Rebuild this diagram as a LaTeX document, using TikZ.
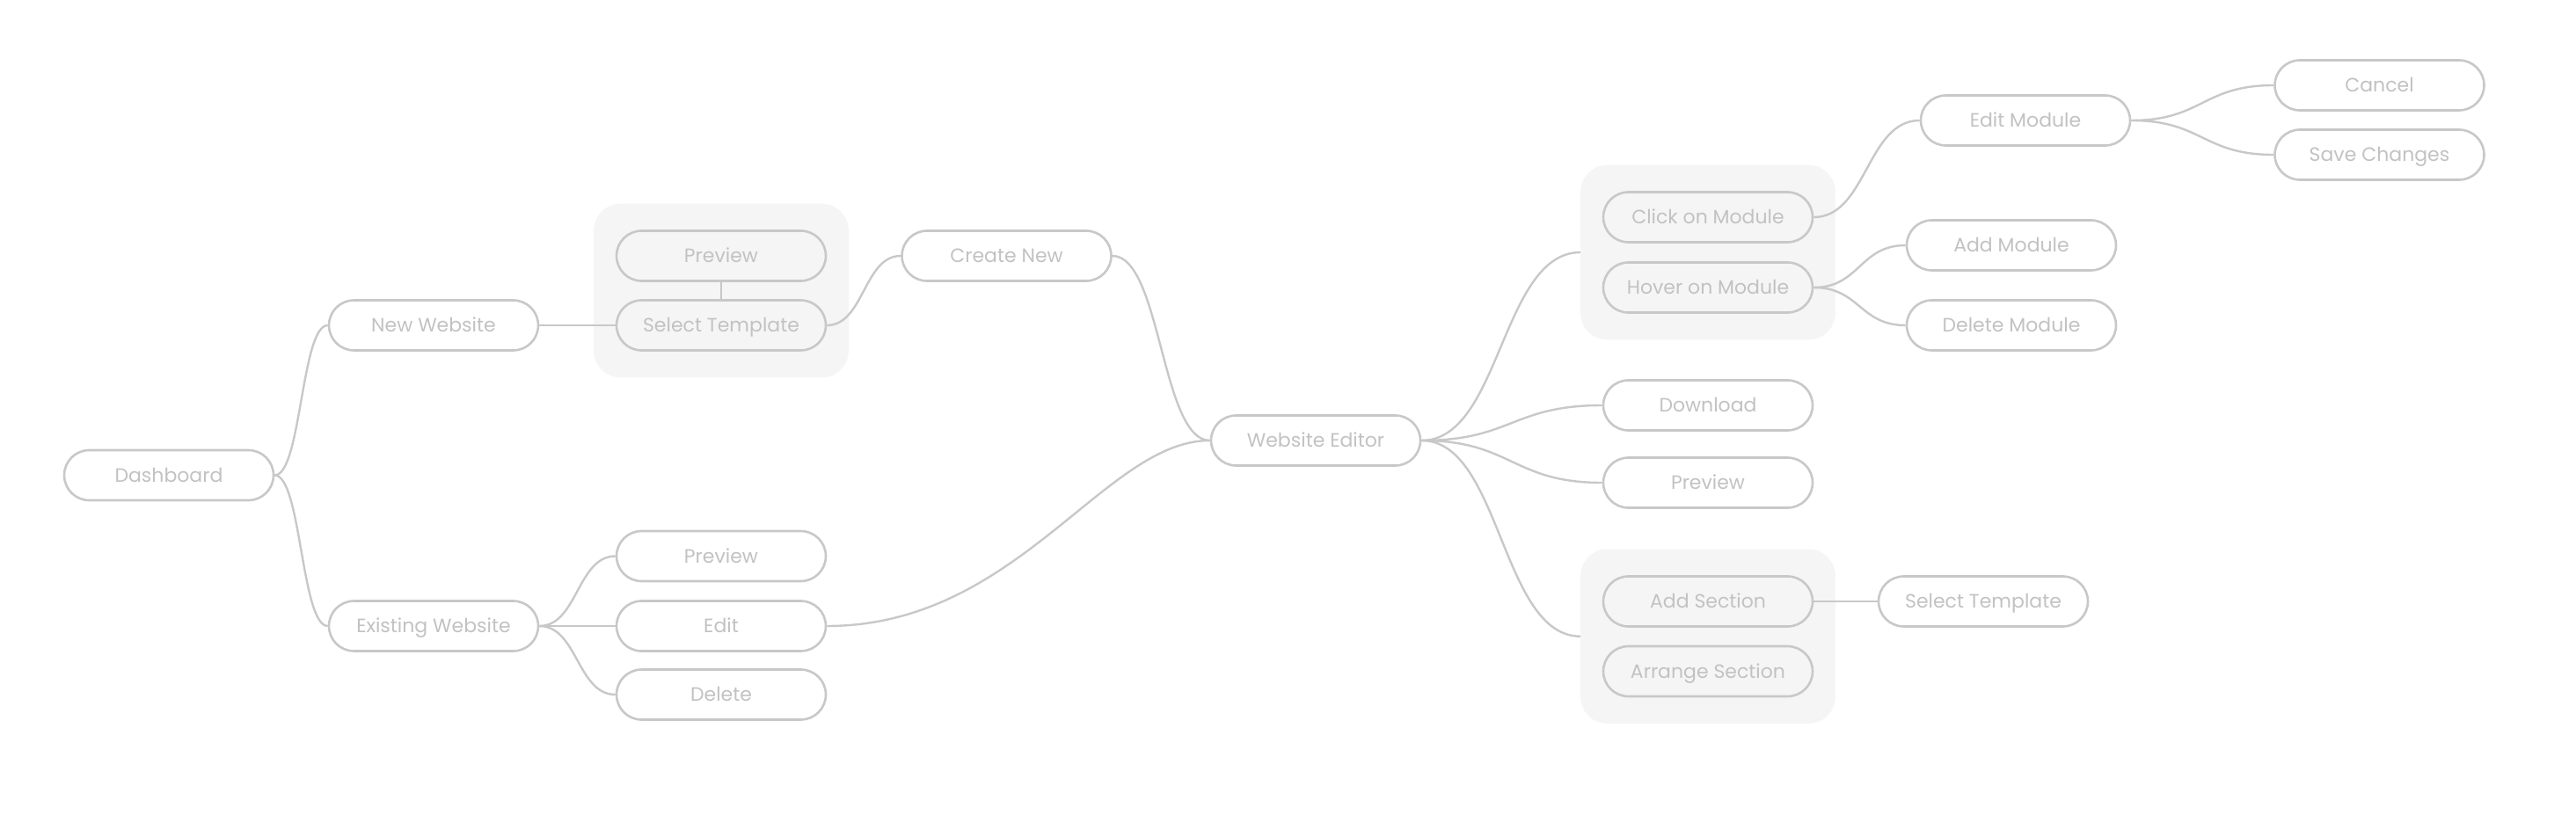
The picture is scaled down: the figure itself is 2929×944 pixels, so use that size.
\documentclass[tikz,border=0pt]{standalone}
\usepackage{fontspec}
\setmainfont{Poppins}
\usetikzlibrary{calc,fit,backgrounds}
\definecolor{linegray}{HTML}{C8C8C8}
\definecolor{textgray}{HTML}{C2C2C2}
\definecolor{boxgray}{HTML}{F5F5F5}
\tikzset{
  item/.style={draw=linegray, line width=2.6pt, fill=white, text=textgray,
    rounded corners=28.5pt, minimum width=238pt, minimum height=57pt,
    inner sep=0pt, text height=20.4pt, text depth=5pt, font=\fontsize{22}{26}\selectfont},
  initem/.style={item, fill=boxgray},
  groupbox/.style={fill=boxgray, rounded corners=30pt, inner xsep=24.5pt, inner ysep=29.5pt},
  link/.style={draw=linegray, line width=2.4pt},
}
\begin{document}
\begin{tikzpicture}[x=1pt, y=-1pt]
  \useasboundingbox (0,0) rectangle (2929,944);
  % plain nodes
  \foreach \nm/\px/\py/\txt in {dash/192/540.5/Dashboard, newweb/493/370/New Website,
      exist/493/712/Existing Website, create/1144.5/291/Create New,
      prevB/820/632.5/Preview, edit/820/712/Edit, delete/820/790/Delete,
      webed/1496/501/Website Editor, download/1942/461/Download, prevC/1942/549/Preview,
      seltplB/2255/684/Select Template, editmod/2303/137/Edit Module,
      addmod/2287/279/Add Module, delmod/2287/370/Delete Module,
      cancel/2705.5/97/Cancel, save/2705.5/176/Save Changes} {
    \node[item] (\nm) at (\px,\py) {\txt};
  }
  % nodes inside the grey groups
  \foreach \nm/\px/\py/\txt in {prevA/820/291/Preview, seltplA/820/370/Select Template,
      click/1942/247/Click on Module, hover/1942/327/Hover on Module,
      addsec/1942/684/Add Section, arrsec/1942/763.5/Arrange Section} {
    \node[initem] (\nm) at (\px,\py) {\txt};
  }
  \begin{scope}[on background layer]
    \node[groupbox, fit=(prevA)(seltplA)] (grpA) {};
    \node[groupbox, fit=(click)(hover)] (grpB) {};
    \node[groupbox, fit=(addsec)(arrsec)] (grpC) {};
  \end{scope}
  % connectors
  \foreach \a/\b in {dash/newweb, dash/exist, newweb/seltplA, seltplA/create, create/webed,
      exist/prevB, exist/edit, exist/delete, webed/grpB, webed/download,
      webed/prevC, webed/grpC, click/editmod, hover/addmod, hover/delmod,
      editmod/cancel, editmod/save, addsec/seltplB} {
    \draw[link] let \p1=(\a.east), \p2=(\b.west), \n1={0.5*(\x2-\x1)} in
      (\p1) .. controls +(\n1,0) and +(-\n1,0) .. (\p2);
  }
  \draw[link] (edit.east) .. controls +(217,0) and +(-120,0) .. (webed.west);
  \draw[link] (prevA.south) -- (seltplA.north);
\end{tikzpicture}
\end{document}
